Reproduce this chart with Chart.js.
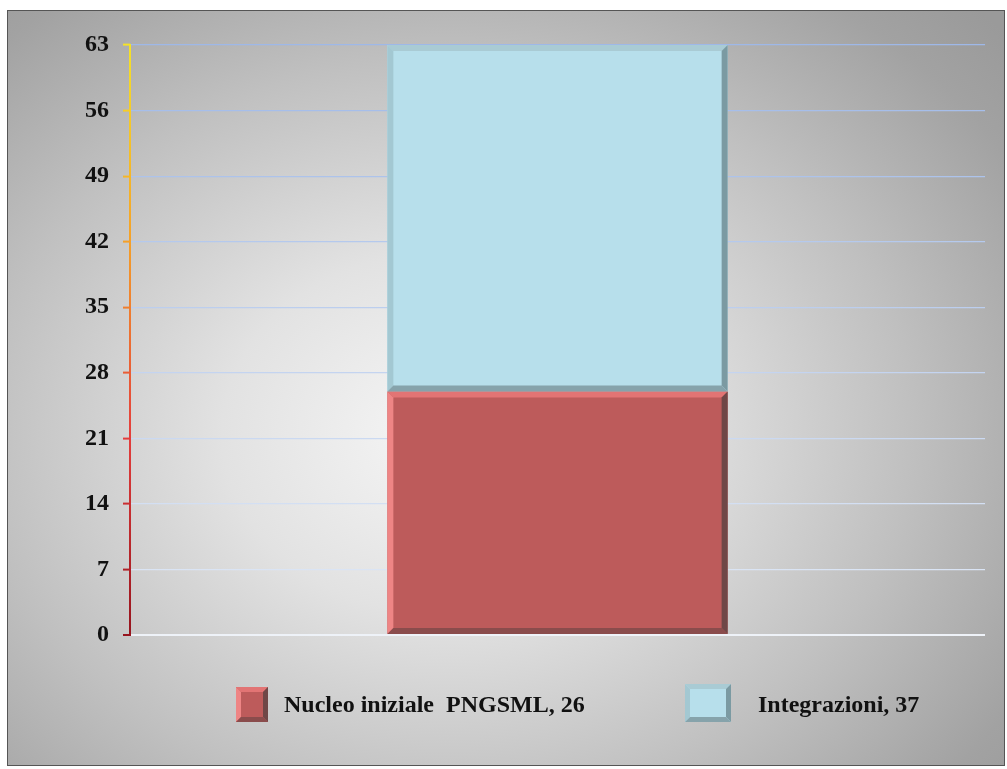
<!DOCTYPE html>
<html>
<head>
<meta charset="utf-8">
<script src="https://cdn.jsdelivr.net/npm/chart.js@4.4.1/dist/chart.umd.min.js"></script>
<style>
  html, body { margin: 0; padding: 0; background: #fff; }
  #frame {
    position: absolute; left: 7px; top: 10px;
    width: 996px; height: 754px;
    border: 1px solid #555;
    background: radial-gradient(ellipse 75% 80% at 44% 56%, #f6f6f6 0%, #e2e2e2 30%, #c0c0c0 62%, #a2a2a2 88%, #9a9a9a 100%);
  }
</style>
</head>
<body>
<div id="frame"><canvas id="chart" width="996" height="754"></canvas></div>
<script>
// dati del grafico
const categories = [""];
const seriesNames = ["Nucleo iniziale  PNGSML", "Integrazioni"];
const nucleoValues = [26];
const integrazioniValues = [37];
const yMax = 63;
const yStep = 7;

// colori: riempimento, bordo chiaro, bordo scuro
const barStyles = [
  { fill: "#bd5b5b", light: "#ee8585", lightTop: "#e27474", dark: "#6f4747", darkBottom: "#8a4c4c" },
  { fill: "#b7dfeb", light: "#a3c8d2", lightTop: "#a9cbd4", dark: "#7b9aa2", darkBottom: "#86a3ab" }
];

function mix(a, b, t) {
  return "rgb(" + a.map((v, i) => Math.round(v + (b[i] - v) * t)).join(",") + ")";
}

// colore asse: giallo in alto, rosso scuro in basso
function axisColor(t) {
  const stops = [[150, 20, 30], [228, 60, 60], [245, 160, 40], [245, 226, 40]];
  const s = Math.min(2.999, t * 3);
  const i = Math.floor(s);
  return mix(stops[i], stops[i + 1], s - i);
}

function drawBevel(ctx, l, t, r, b, st, k) {
  ctx.save();
  // top
  ctx.fillStyle = st.lightTop;
  ctx.beginPath(); ctx.moveTo(l, t); ctx.lineTo(r, t); ctx.lineTo(r - k, t + k); ctx.lineTo(l + k, t + k); ctx.closePath(); ctx.fill();
  // left
  ctx.fillStyle = st.light;
  ctx.beginPath(); ctx.moveTo(l, t); ctx.lineTo(l + k, t + k); ctx.lineTo(l + k, b - k); ctx.lineTo(l, b); ctx.closePath(); ctx.fill();
  // right
  ctx.fillStyle = st.dark;
  ctx.beginPath(); ctx.moveTo(r, t); ctx.lineTo(r, b); ctx.lineTo(r - k, b - k); ctx.lineTo(r - k, t + k); ctx.closePath(); ctx.fill();
  // bottom
  ctx.fillStyle = st.darkBottom;
  ctx.beginPath(); ctx.moveTo(l, b); ctx.lineTo(r, b); ctx.lineTo(r - k, b - k); ctx.lineTo(l + k, b - k); ctx.closePath(); ctx.fill();
  ctx.restore();
}

// effetto rilievo sulle barre + asse sfumato + legenda
const bevelPlugin = {
  id: "bevel",
  afterDatasetsDraw(chart) {
    const ctx = chart.ctx;
    chart.data.datasets.forEach((ds, di) => {
      const meta = chart.getDatasetMeta(di);
      meta.data.forEach((el) => {
        const p = el.getProps(["x", "y", "base", "width"], true);
        const l = p.x - p.width / 2, r = p.x + p.width / 2;
        const t = Math.min(p.y, p.base), b = Math.max(p.y, p.base);
        drawBevel(ctx, l, t, r, b, barStyles[di], 6);
      });
    });
  },
  afterDraw(chart) {
    const ctx = chart.ctx;
    const y = chart.scales.y;
    const area = chart.chartArea;
    const g = ctx.createLinearGradient(0, area.top, 0, area.bottom);
    g.addColorStop(0, axisColor(1));
    g.addColorStop(0.33, axisColor(0.67));
    g.addColorStop(0.66, axisColor(0.34));
    g.addColorStop(1, axisColor(0));
    ctx.save();
    ctx.strokeStyle = g;
    ctx.lineWidth = 2;
    ctx.beginPath();
    ctx.moveTo(area.left, y.getPixelForValue(yMax) - 1);
    ctx.lineTo(area.left, y.getPixelForValue(0) + 1);
    ctx.stroke();

    // legenda
    const items = [
      { box: [228, 676, 32, 35], textX: 276 },
      { box: [677, 673, 46, 38], textX: 750 }
    ];
    ctx.font = "bold 24px 'Liberation Serif', 'Times New Roman', serif";
    ctx.textBaseline = "middle";
    ctx.fillStyle = "#111";
    chart.data.datasets.forEach((ds, di) => {
      const it = items[di];
      const [bx, by, bw, bh] = it.box;
      ctx.fillStyle = barStyles[di].fill;
      ctx.fillRect(bx, by, bw, bh);
      drawBevel(ctx, bx, by, bx + bw, by + bh, barStyles[di], 5);
      ctx.fillStyle = "#111";
      ctx.fillText(ds.label + ", " + ds.data[0], it.textX, 695);
    });
    ctx.restore();
  }
};

new Chart(document.getElementById("chart"), {
  type: "bar",
  data: {
    labels: categories,
    datasets: [
      { label: seriesNames[0], data: nucleoValues, backgroundColor: barStyles[0].fill },
      { label: seriesNames[1], data: integrazioniValues, backgroundColor: barStyles[1].fill }
    ]
  },
  options: {
    responsive: false,
    animation: false,
    layout: { padding: { left: 0, top: 34, right: 19, bottom: 130 } },
    datasets: { bar: { barPercentage: 0.398, categoryPercentage: 1, borderWidth: 0 } },
    plugins: {
      legend: { display: false },
      tooltip: { enabled: false }
    },
    scales: {
      x: { stacked: true, display: false },
      y: {
        stacked: true,
        min: 0,
        max: yMax,
        afterFit(scale) { scale.width = 122; },
        border: { display: false },
        grid: {
          color: (c) => c.tick && c.tick.value === 0 ? "#eef2f8" : mix([226, 234, 246], [158, 184, 232], c.tick ? c.tick.value / yMax : 0),
          lineWidth: (c) => c.tick && c.tick.value === 0 ? 2 : 1.2,
          tickColor: (c) => axisColor(c.tick ? c.tick.value / yMax : 0),
          tickLength: 7,
          tickWidth: 2
        },
        ticks: {
          stepSize: yStep,
          padding: 14,
          color: "#111",
          font: { family: "'Liberation Serif', 'Times New Roman', serif", size: 24, weight: "bold" }
        }
      }
    }
  },
  plugins: [bevelPlugin]
});
</script>
</body>
</html>
